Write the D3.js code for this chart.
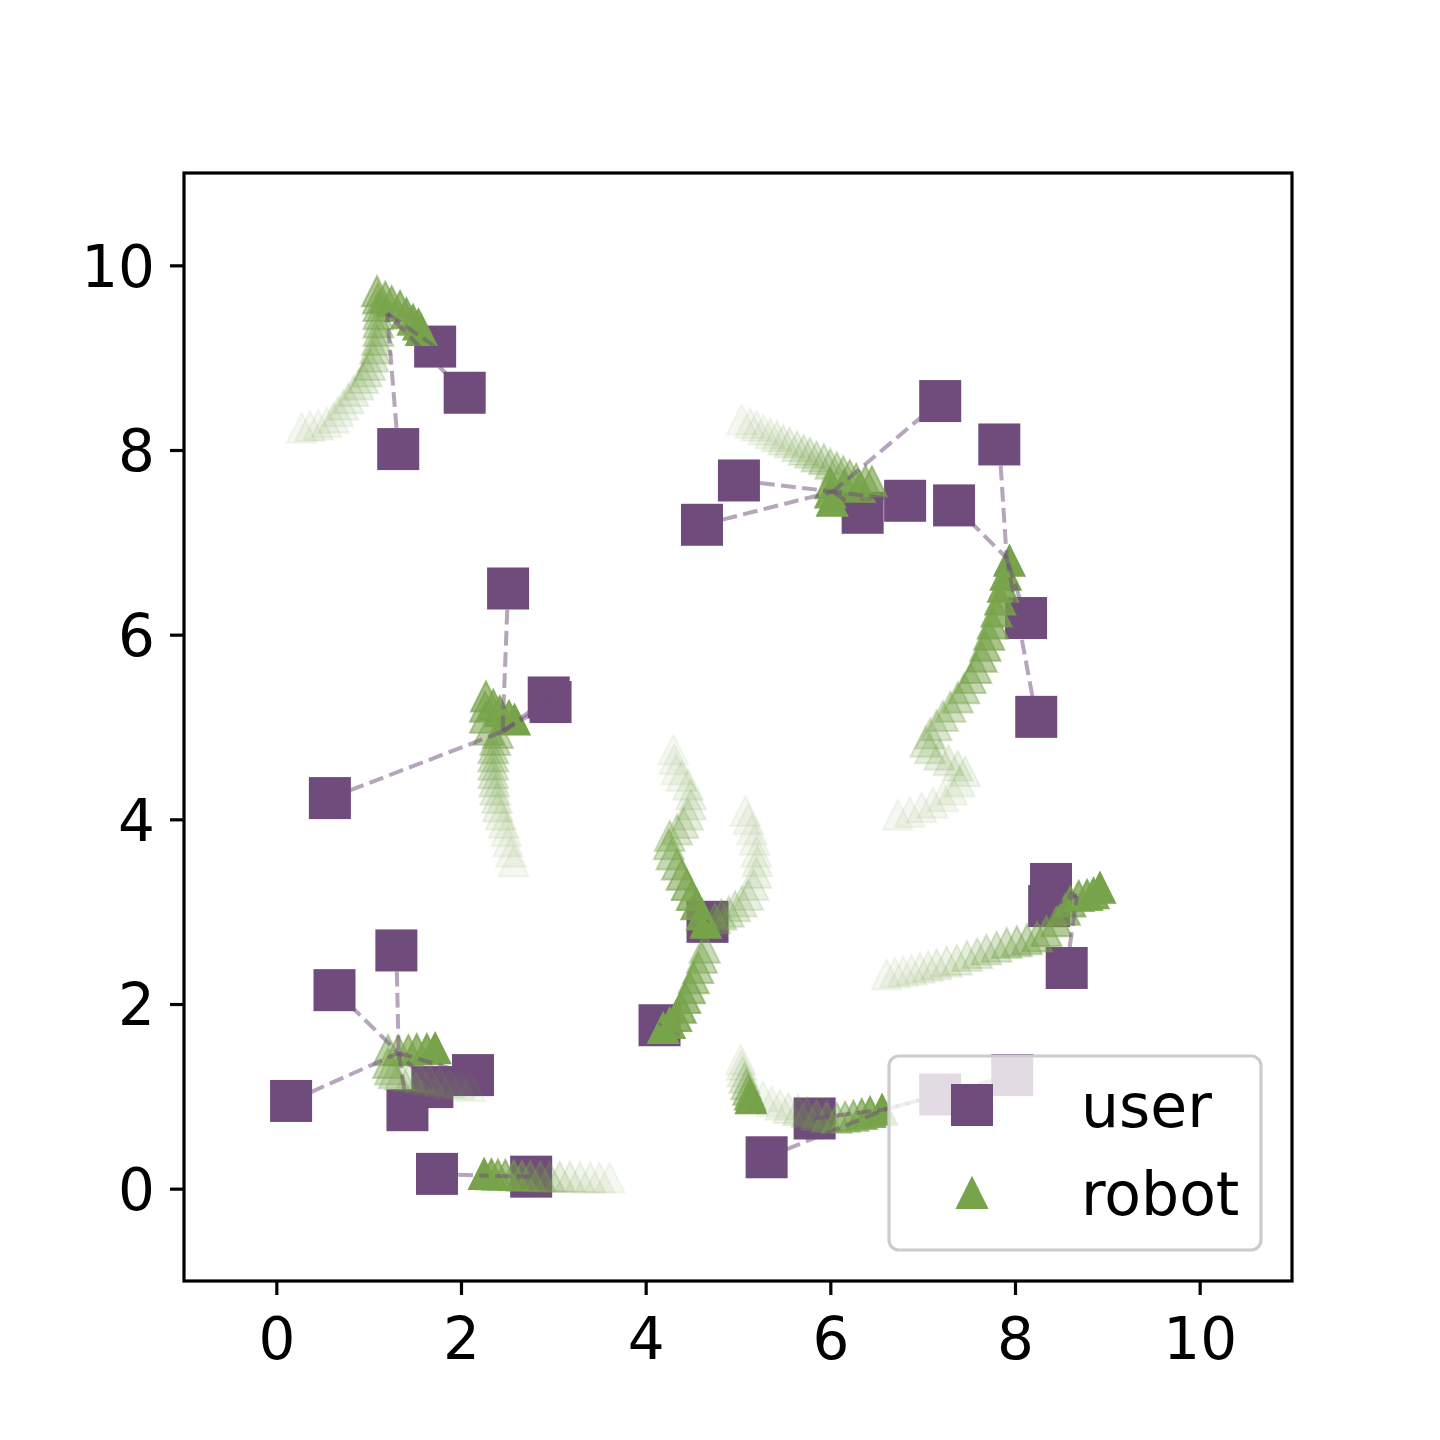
<!DOCTYPE html>
<html>
<head>
<meta charset="utf-8">
<script src="https://cdn.jsdelivr.net/npm/d3@7"></script>
<style>
  body { margin: 0; background: #fff; }
  text { font-family: "DejaVu Sans", sans-serif; }
</style>
</head>
<body>
<div id="chart"></div>
<script>
//Hub points, where the dashed lines from the users meet
var hubX = [1.20, 6.03, 7.91, 2.45, 4.68, 4.16, 1.325, 2.28, 6.60, 8.67];
var hubY = [9.48, 7.55, 6.83, 4.95, 2.90, 1.79, 1.47, 0.14, 0.86, 3.17];

//User positions, and the hub each one is linked to
var userX = [1.32, 2.04, 1.72,
  4.61, 5.01, 7.19, 6.35, 6.81,
  7.34, 7.83, 8.12, 8.23,
  2.51, 2.95, 2.97, 0.58,
  4.67, 4.15,
  1.30, 0.63, 0.16, 2.13, 1.42, 1.69,
  1.74, 2.76,
  5.31, 5.83, 7.19, 7.97,
  8.39, 8.37, 8.56];
var userY = [8.01, 8.62, 9.12,
  7.19, 7.67, 8.53, 7.32, 7.45,
  7.40, 8.06, 6.18, 5.11,
  6.50, 5.32, 5.27, 4.23,
  2.89, 1.77,
  2.58, 2.15, 0.95, 1.23, 0.85, 1.10,
  0.16, 0.13,
  0.34, 0.76, 1.02, 1.23,
  3.30, 3.06, 2.39];
var userHub = [0, 0, 0,
  1, 1, 1, 1, 1,
  2, 2, 2, 2,
  3, 3, 3, 3,
  4, 5,
  6, 6, 6, 6, 6, 6,
  7, 7,
  8, 8, 8, 8,
  9, 9, 9];

//Robot trajectories, first point is the oldest
var pathA = [[0.275,8.24],[0.365,8.26],[0.455,8.27],[0.545,8.30],[0.62,8.35],[0.67,8.42],[0.725,8.49],
  [0.78,8.56],[0.835,8.64],[0.89,8.71],[0.94,8.78],[0.98,8.85],[1.015,8.92],[1.05,9.01],[1.07,9.10],
  [1.09,9.19],[1.105,9.29],[1.105,9.38],[1.105,9.47],[1.105,9.56],[1.10,9.64],[1.09,9.72],[1.18,9.66],
  [1.25,9.61],[1.34,9.56],[1.41,9.48],[1.48,9.41],[1.54,9.36],[1.57,9.30]];
var pathB1 = [[5.04,8.33],[5.13,8.29],[5.20,8.26],[5.275,8.22],[5.35,8.18],[5.42,8.15],[5.49,8.11],
  [5.56,8.08],[5.64,8.04],[5.71,8.00],[5.78,7.97],[5.85,7.93],[5.93,7.90],[6.00,7.85],[6.07,7.81],
  [6.14,7.77],[6.21,7.73],[6.28,7.69],[6.38,7.67],[6.45,7.66],[6.32,7.60],[6.15,7.62],[6.00,7.64],
  [6.00,7.54],[6.02,7.45]];
var pathB2 = [[6.73,4.05],[6.86,4.08],[6.99,4.13],[7.11,4.18],[7.22,4.25],[7.32,4.32],[7.40,4.41],
  [7.46,4.52],[7.38,4.58],[7.28,4.64],[7.18,4.70],[7.08,4.77],[7.03,4.84],[7.08,4.93],[7.15,5.02],
  [7.22,5.12],[7.30,5.22],[7.38,5.32],[7.45,5.42],[7.52,5.53],[7.58,5.64],[7.64,5.76],[7.68,5.88],
  [7.72,6.00],[7.76,6.12],[7.80,6.25],[7.84,6.38],[7.87,6.52],[7.90,6.65],[7.94,6.80]];
var pathC = [[2.57,3.545],[2.54,3.65],[2.51,3.76],[2.49,3.87],[2.46,3.96],[2.43,4.05],[2.40,4.14],
  [2.39,4.23],[2.37,4.32],[2.36,4.41],[2.35,4.50],[2.35,4.59],[2.35,4.68],[2.35,4.77],[2.37,4.86],
  [2.40,4.935],[2.30,4.97],[2.26,5.10],[2.26,5.22],[2.27,5.33],[2.35,5.24],[2.42,5.17],[2.52,5.12],
  [2.58,5.08]];
var pathD1 = [[4.30,4.755],[4.31,4.65],[4.33,4.54],[4.39,4.47],[4.46,4.375],[4.49,4.27],[4.49,4.16],
  [4.46,4.05],[4.41,3.96],[4.34,3.89],[4.26,3.82],[4.25,3.73],[4.28,3.62],[4.34,3.51],[4.39,3.40],
  [4.445,3.29],[4.50,3.18],[4.55,3.08],[4.61,2.97],[4.65,2.88]];
var pathD2 = [[5.08,4.09],[5.11,4.00],[5.15,3.89],[5.18,3.78],[5.20,3.65],[5.21,3.545],[5.20,3.42],
  [5.17,3.29],[5.11,3.18],[5.04,3.11],[4.97,3.06],[4.90,3.00],[4.82,2.97],[4.75,2.93],
  [4.64,2.61],[4.61,2.50],[4.57,2.39],[4.52,2.28],[4.48,2.17],[4.43,2.065],[4.38,1.96],
  [4.33,1.87],[4.26,1.795],[4.19,1.74]];
var pathE = [[2.10,1.11],[1.99,1.13],[1.88,1.145],[1.77,1.16],[1.66,1.18],[1.56,1.20],[1.45,1.22],
  [1.34,1.235],[1.27,1.25],[1.23,1.29],[1.21,1.36],[1.21,1.50],[1.32,1.50],[1.43,1.50],[1.52,1.51],
  [1.63,1.51],[1.72,1.52]];
var pathF = [[3.61,0.12],[3.50,0.12],[3.40,0.12],[3.29,0.125],[3.18,0.13],[3.07,0.13],[2.96,0.13],
  [2.86,0.135],[2.75,0.14],[2.66,0.14],[2.57,0.145],[2.48,0.15],[2.40,0.15],[2.33,0.155],[2.25,0.16]];
var pathG1 = [[5.03,1.40],[5.04,1.34],[5.05,1.27],[5.07,1.20],[5.09,1.13],[5.11,1.07],[5.13,1.02],[5.14,0.98]];
var pathG2 = [[5.27,1.00],[5.365,0.945],[5.455,0.91],[5.545,0.875],[5.65,0.85],[5.745,0.83],[5.85,0.80],
  [5.96,0.78],[6.07,0.765],[6.16,0.78],[6.25,0.79],[6.34,0.81],[6.43,0.83],[6.56,0.855]];
var pathH = [[6.61,2.32],[6.70,2.34],[6.79,2.355],[6.88,2.37],[6.97,2.39],[7.06,2.41],[7.15,2.43],
  [7.26,2.46],[7.37,2.48],[7.48,2.52],[7.59,2.55],[7.69,2.59],[7.80,2.62],[7.91,2.66],[8.02,2.68],
  [8.13,2.70],[8.24,2.73],[8.34,2.79],[8.45,2.895],[8.54,3.02],[8.60,3.11],[8.69,3.17],[8.78,3.18],
  [8.85,3.20],[8.92,3.26]];
var robotPaths = [pathA, pathB1, pathB2, pathC, pathD1, pathD2, pathE, pathF, pathG1, pathG2, pathH];

//Tick values and legend labels
var xTicks = [0, 2, 4, 6, 8, 10];
var yTicks = [0, 2, 4, 6, 8, 10];
var legendLabels = ['user', 'robot'];

var userColor = '#6f4c7b', robotColor = '#77a34a';
var squareSide = 42;
var triPath = 'M0,-15L15,15L-15,15Z';

var x = d3.scaleLinear().domain([-1, 11]).range([184, 1292]);
var y = d3.scaleLinear().domain([-1, 11]).range([1281, 173]);

var svg = d3.select('#chart')
    .append('svg')
    .attr('width', 1440)
    .attr('height', 1440);

//alpha grows along each trajectory
function fade(i, n){
  var t = n > 1 ? i / (n - 1) : 1;
  return 0.08 + 0.92 * Math.pow(t, 2.2);
}

//user squares
svg.append('g').selectAll('rect')
    .data(d3.range(userX.length))
    .enter()
    .append('rect')
    .attr('x', function(i){ return x(userX[i]) - squareSide / 2; })
    .attr('y', function(i){ return y(userY[i]) - squareSide / 2; })
    .attr('width', squareSide)
    .attr('height', squareSide)
    .attr('fill', userColor);

//robot triangles
var robotG = svg.append('g');
robotPaths.forEach(function(p){
  robotG.selectAll(null)
      .data(p)
      .enter()
      .append('path')
      .attr('d', triPath)
      .attr('transform', function(d){ return 'translate(' + x(d[0]) + ',' + y(d[1]) + ')'; })
      .attr('fill', robotColor)
      .attr('stroke', robotColor)
      .attr('stroke-width', 2)
      .attr('fill-opacity', function(d, i){ return fade(i, p.length); })
      .attr('stroke-opacity', function(d, i){ return fade(i, p.length); });
});

//dashed links user -> hub
svg.append('g').selectAll('line')
    .data(d3.range(userX.length))
    .enter()
    .append('line')
    .attr('x1', function(i){ return x(userX[i]); })
    .attr('y1', function(i){ return y(userY[i]); })
    .attr('x2', function(i){ return x(hubX[userHub[i]]); })
    .attr('y2', function(i){ return y(hubY[userHub[i]]); })
    .attr('stroke', userColor)
    .attr('stroke-opacity', 0.5)
    .attr('stroke-width', 4)
    .attr('stroke-dasharray', '14.8,6.4');

//axes
var xAxis = svg.append('g')
    .attr('transform', 'translate(0,1281)')
    .call(d3.axisBottom(x).tickValues(xTicks).tickSize(14).tickPadding(23));
var yAxis = svg.append('g')
    .attr('transform', 'translate(184,0)')
    .call(d3.axisLeft(y).tickValues(yTicks).tickSize(14).tickPadding(15));
[xAxis, yAxis].forEach(function(a){
  a.select('.domain').remove();
  a.selectAll('line').attr('stroke', '#000').attr('stroke-width', 3.2);
  a.selectAll('text').attr('fill', '#000').style('font-size', '58px')
      .style('font-family', '"DejaVu Sans", sans-serif');
});
yAxis.selectAll('text').attr('dy', '0.36em');

//frame
svg.append('rect')
    .attr('x', 184).attr('y', 173)
    .attr('width', 1108).attr('height', 1108)
    .attr('fill', 'none')
    .attr('stroke', '#000')
    .attr('stroke-width', 3.2);

//legend
var legend = svg.append('g');
legend.append('rect')
    .attr('x', 889).attr('y', 1056)
    .attr('width', 372).attr('height', 194)
    .attr('rx', 10)
    .attr('fill', '#fff').attr('fill-opacity', 0.8)
    .attr('stroke', '#cccccc').attr('stroke-width', 3.2);
legend.append('rect')
    .attr('x', 972 - squareSide / 2).attr('y', 1105 - squareSide / 2)
    .attr('width', squareSide).attr('height', squareSide)
    .attr('fill', userColor);
legend.append('path')
    .attr('d', triPath)
    .attr('transform', 'translate(972,1193)')
    .attr('fill', robotColor).attr('stroke', robotColor).attr('stroke-width', 2);
legend.selectAll('text')
    .data(legendLabels)
    .enter()
    .append('text')
    .attr('x', 1081)
    .attr('y', function(d, i){ return 1127 + i * 88; })
    .style('font-size', '60px')
    .attr('fill', '#000')
    .text(function(d){ return d; });
</script>
</body>
</html>
